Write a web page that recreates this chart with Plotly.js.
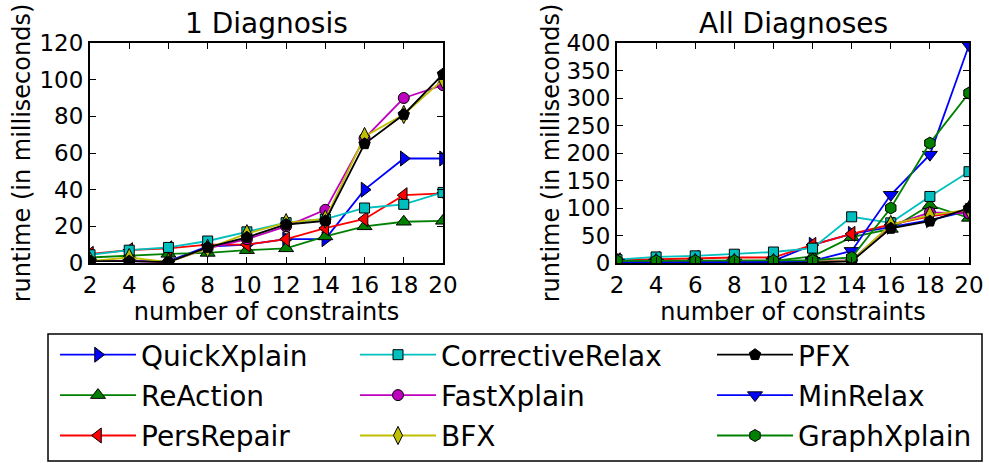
<!DOCTYPE html>
<html>
<head>
<meta charset="utf-8">
<script src="https://cdn.plot.ly/plotly-3.0.1.min.js"></script>
<style>
  html, body { margin: 0; padding: 0; background: #fff; }
  #chart { width: 989px; height: 463px; }
</style>
</head>
<body>
<div id="chart"></div>
<script>
// Number of constraints (x values shared by every series)
const constraints = [2, 4, 6, 8, 10, 12, 14, 16, 18, 20];

// Runtime in milliseconds to find one diagnosis
const quickXplain1     = [1, 1, 1, 9, 10, 13, 13, 40, 57, 57];
const reAction1        = [3, 4, 5, 5.5, 7, 8, 14.5, 20, 22.5, 23];
const persRepair1      = [5, 7, 8, 10, 10, 13, 19, 24, 37, 38];
const correctiveRelax1 = [4.5, 7, 8.5, 12, 17, 22, 24, 30, 32, 38.5];
const fastXplain1      = [1, 1, 0.5, 8, 13, 20, 29, 68, 90, 97];
const bfx1             = [1, 3, 0.5, 8, 16, 22, 24, 69, 81, 100];
const pfx1             = [1, 1, 0.5, 8.5, 14, 21, 23, 65, 81, 103];

// Runtime in milliseconds to find all diagnoses
const quickXplainAll     = [2, 2, 3, 3, 4, 33, 53, 66, 78, 95];
const reActionAll        = [3, 3, 3, 4, 4, 12, 47, 62, 105, 82];
const persRepairAll      = [5, 7, 9, 10, 10, 33, 53, 70, 85, 95];
const correctiveRelaxAll = [6, 11, 13, 16, 20, 27, 84, 73, 121, 166];
const fastXplainAll      = [1, 1, 1, 1, 1, 2, 5, 68, 92, 90];
const bfxAll             = [1, 1, 1, 1, 1, 2, 4, 70, 87, 97];
const pfxAll             = [1, 1, 1, 1, 1, 1, 3, 63, 76, 100];
const minRelaxAll        = [1, 1, 1, 1, 2, 4, 22, 124, 197, 396];
const graphXplainAll     = [4, 4, 4, 4, 4, 5, 10, 100, 218, 309];

const xTicks = [2, 4, 6, 8, 10, 12, 14, 16, 18, 20];
const titles = ['1 Diagnosis', 'All Diagnoses'];
const yLabel = 'runtime (in milliseconds)';
const xLabel = 'number of constraints';

// name, colour, marker symbol, marker size, legend column, data (one / all)
const algorithms = [
  { name: 'QuickXplain',     color: '#0000ff', symbol: 'triangle-right', size: 13, legend: 'legend',  one: quickXplain1,     all: quickXplainAll },
  { name: 'ReAction',        color: '#008000', symbol: 'triangle-up',    size: 13, legend: 'legend',  one: reAction1,        all: reActionAll },
  { name: 'PersRepair',      color: '#ff0000', symbol: 'triangle-left',  size: 13, legend: 'legend',  one: persRepair1,      all: persRepairAll },
  { name: 'CorrectiveRelax', color: '#00bfbf', symbol: 'square',         size: 10, legend: 'legend2', one: correctiveRelax1, all: correctiveRelaxAll },
  { name: 'FastXplain',      color: '#bf00bf', symbol: 'circle',         size: 11, legend: 'legend2', one: fastXplain1,      all: fastXplainAll },
  { name: 'BFX',             color: '#bfbf00', symbol: 'diamond-tall',   size: 13, legend: 'legend2', one: bfx1,             all: bfxAll },
  { name: 'PFX',             color: '#000000', symbol: 'pentagon',       size: 12, legend: 'legend3', one: pfx1,             all: pfxAll },
  { name: 'MinRelax',        color: '#0000ff', symbol: 'triangle-down',  size: 13, legend: 'legend3', one: null,             all: minRelaxAll },
  { name: 'GraphXplain',     color: '#008000', symbol: 'hexagon',        size: 12, legend: 'legend3', one: null,             all: graphXplainAll }
];

function makeTrace(a, ys, xa, ya, showLegend) {
  return {
    x: constraints, y: ys, xaxis: xa, yaxis: ya,
    type: 'scatter', mode: 'lines+markers', name: a.name,
    legend: a.legend, legendgroup: a.name, showlegend: showLegend,
    line: { color: a.color, width: 1.8 },
    marker: { symbol: a.symbol, size: a.size, color: a.color, line: { color: '#000', width: 1 } }
  };
}

const traces = [];
algorithms.forEach(a => { if (a.one) traces.push(makeTrace(a, a.one, 'x', 'y', false)); });
algorithms.forEach(a => traces.push(makeTrace(a, a.all, 'x2', 'y2', true)));

const W = 989, H = 463;
const px = v => v / W;
const py = v => 1 - v / H;

const tickFont = { family: 'DejaVu Sans', size: 23, color: '#000' };
const labelFont = { family: 'DejaVu Sans', size: 24, color: '#000' };
function xAxis(domain, anchor) {
  return {
    domain: domain, anchor: anchor, range: [2, 20], tickvals: xTicks,
    showgrid: false, zeroline: false, showline: true, linecolor: '#000', linewidth: 2,
    mirror: 'ticks', ticks: 'inside', ticklen: 6, tickwidth: 1, tickcolor: '#000',
    tickfont: tickFont, fixedrange: true, automargin: false,
    title: { text: xLabel, font: labelFont, standoff: 4 }
  };
}
function yAxis(range, dtick, anchor, standoff) {
  return {
    domain: [py(263), py(43)], anchor: anchor, range: range, dtick: dtick,
    showgrid: false, zeroline: false, showline: true, linecolor: '#000', linewidth: 2,
    mirror: 'ticks', ticks: 'inside', ticklen: 6, tickwidth: 1, tickcolor: '#000',
    tickfont: tickFont, fixedrange: true, automargin: false,
    title: { text: yLabel, font: labelFont, standoff: standoff }
  };
}

const legendFont = { family: 'DejaVu Sans', size: 28, color: '#000' };
function legendAt(xPix) {
  return {
    x: px(xPix), xanchor: 'left', y: py(330), yanchor: 'top',
    orientation: 'v', bgcolor: 'rgba(0,0,0,0)', borderwidth: 0,
    font: legendFont, itemwidth: 76, tracegroupgap: 1, itemclick: false, itemdoubleclick: false
  };
}

const layout = {
  width: W, height: H,
  margin: { l: 0, r: 0, t: 0, b: 0, autoexpand: false },
  paper_bgcolor: '#fff', plot_bgcolor: '#fff',
  font: { family: 'DejaVu Sans', color: '#000' },
  xaxis: xAxis([px(90), px(443)], 'y'),
  yaxis: yAxis([0, 120], 20, 'x', 2),
  xaxis2: xAxis([px(617), px(969)], 'y2'),
  yaxis2: yAxis([0, 400], 50, 'x2', 0),
  legend: legendAt(55),
  legend2: legendAt(355),
  legend3: legendAt(712),
  annotations: [
    { text: titles[0], xref: 'paper', yref: 'paper', x: px(266.5), y: py(24), xanchor: 'center', yanchor: 'middle', showarrow: false, font: { family: 'DejaVu Sans', size: 28, color: '#000' } },
    { text: titles[1], xref: 'paper', yref: 'paper', x: px(793), y: py(24), xanchor: 'center', yanchor: 'middle', showarrow: false, font: { family: 'DejaVu Sans', size: 28, color: '#000' } }
  ],
  shapes: [
    { type: 'rect', xref: 'paper', yref: 'paper', x0: px(48), x1: px(982), y0: py(461), y1: py(334), line: { color: '#000', width: 1.5 }, fillcolor: 'rgba(0,0,0,0)' }
  ]
};

Plotly.newPlot('chart', traces, layout, { displayModeBar: false, staticPlot: true });
</script>
</body>
</html>
